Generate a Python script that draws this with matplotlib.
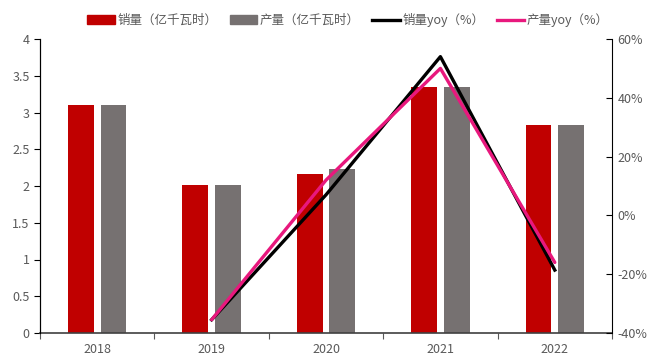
import numpy as np
import matplotlib as mpl
import matplotlib.pyplot as plt
from matplotlib.patches import Patch
from matplotlib.lines import Line2D
from matplotlib.ticker import FuncFormatter

plt.rcParams['font.family'] = ['Noto Sans CJK SC', 'DejaVu Sans']
plt.rcParams['axes.unicode_minus'] = False

years = ['2018', '2019', '2020', '2021', '2022']
sales = [3.10, 2.01, 2.16, 3.35, 2.83]          # 销量（亿千瓦时）
output = [3.10, 2.01, 2.23, 3.35, 2.83]         # 产量（亿千瓦时）
sales_yoy = [np.nan, -35.5, 7.0, 54.0, -18.6]   # 销量yoy（%）
output_yoy = [np.nan, -35.5, 12.0, 50.0, -16.0]  # 产量yoy（%）

red = '#C00000'
grey = '#767171'
pink = '#E8187D'
txt = '#595959'

fig = plt.figure(figsize=(6.52, 3.58), dpi=100)
ax = fig.add_axes([40 / 652, 25 / 358, 572 / 652, 294 / 358])
ax2 = ax.twinx()

x = np.arange(len(years))
w = 0.226
off = 0.142
ax.bar(x - off, sales, w, color=red, zorder=2)
ax.bar(x + off, output, w, color=grey, zorder=2)

ax2.plot(x, sales_yoy, color='black', lw=2.4, zorder=3)
ax2.plot(x, output_yoy, color=pink, lw=2.4, zorder=4, solid_capstyle='round')

ax.set_xlim(-0.5, 4.5)
ax.set_ylim(0, 4)
ax.set_yticks(np.arange(0, 4.01, 0.5))
ax.set_yticklabels(['0', '0.5', '1', '1.5', '2', '2.5', '3', '3.5', '4'])
ax2.set_ylim(-40, 60)
ax2.set_yticks(np.arange(-40, 61, 20))
ax2.yaxis.set_major_formatter(FuncFormatter(lambda v, _: f'{v:.0f}%'))

# category boundaries carry the tick marks, labels sit at the centres
ax.set_xticks(np.arange(-0.5, 4.6, 1))
ax.set_xticklabels([])
ax.set_xticks(x, minor=True)
ax.set_xticklabels(years, minor=True)
ax.tick_params(axis='x', which='major', length=4, color='#595959', direction='out')
ax.tick_params(axis='x', which='minor', length=0, pad=7, labelsize=9, labelcolor=txt)
ax.tick_params(axis='y', length=4, direction='out', labelsize=9, labelcolor=txt)
ax2.tick_params(axis='y', length=4, direction='in', labelsize=9, labelcolor=txt, pad=4)

for a in (ax, ax2):
    a.spines['top'].set_visible(False)
ax.spines['bottom'].set_color('#404040')
ax.spines['bottom'].set_linewidth(1.2)
ax2.spines['bottom'].set_visible(False)
ax.spines['right'].set_visible(False)

handles = [
    Patch(color=red, label='销量（亿千瓦时）'),
    Patch(color=grey, label='产量（亿千瓦时）'),
    Line2D([], [], color='black', lw=2.4, label='销量yoy（%）'),
    Line2D([], [], color=pink, lw=2.4, label='产量yoy（%）'),
]
fig.legend(handles=handles, loc='center', bbox_to_anchor=(348 / 652, 1 - 20 / 358),
           ncol=4, frameon=False, fontsize=9, labelcolor=txt,
           handlelength=2.2, handleheight=0.7, handletextpad=0.2, columnspacing=1.0)

fig.savefig('out.png', dpi=100)
